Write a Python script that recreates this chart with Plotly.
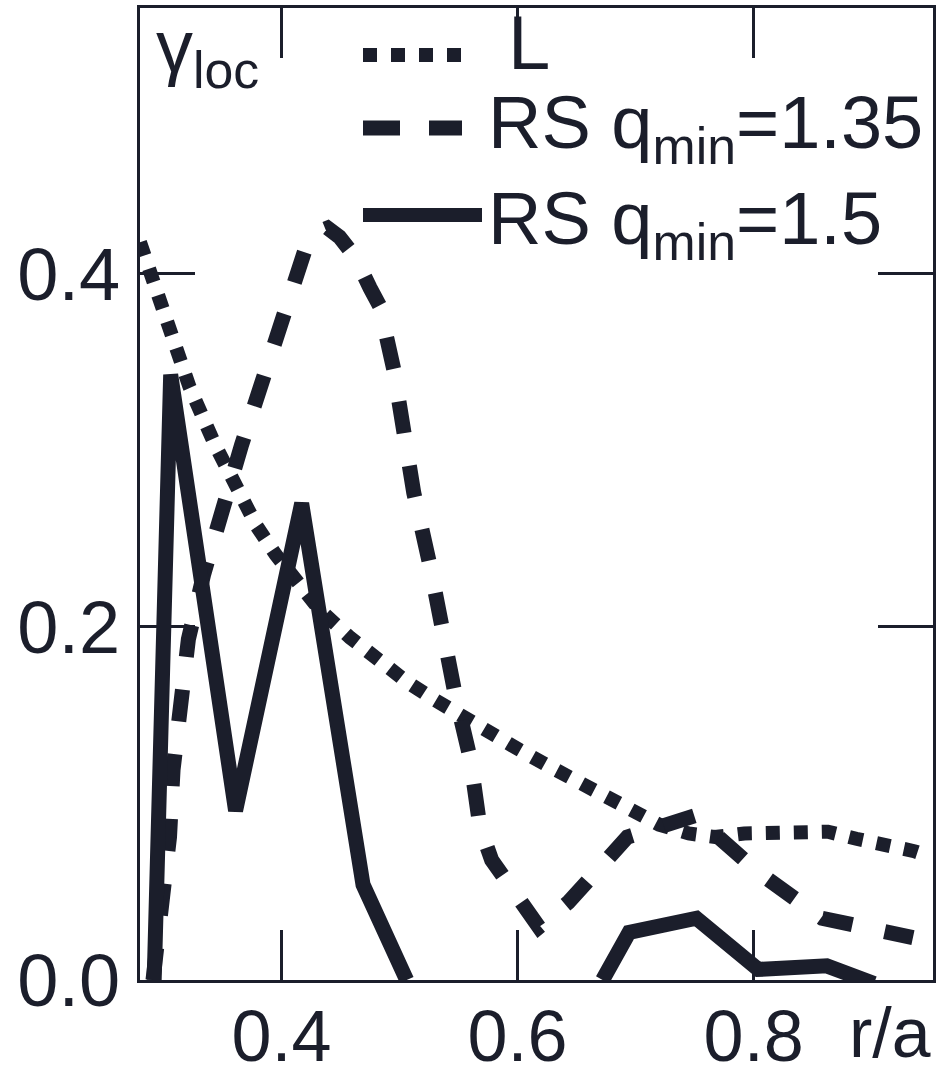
import plotly.graph_objects as go

# ---- data ----
x_L = [0.280, 0.290, 0.300, 0.312, 0.322, 0.343, 0.366, 0.379, 0.395, 0.414, 0.432,
       0.458, 0.482, 0.506, 0.529, 0.553, 0.577, 0.600, 0.624, 0.648, 0.671, 0.695,
       0.720, 0.745, 0.767, 0.792, 0.839, 0.863, 0.887, 0.912, 0.936, 0.945]
y_L = [0.418, 0.398, 0.375, 0.352, 0.336, 0.304, 0.273, 0.257, 0.241, 0.225, 0.210,
       0.194, 0.181, 0.169, 0.159, 0.149, 0.140, 0.131, 0.122, 0.114, 0.106, 0.097,
       0.088, 0.083, 0.081, 0.083, 0.084, 0.084, 0.080, 0.077, 0.073, 0.071]

x_RS135 = [0.291, 0.299, 0.305, 0.308, 0.315, 0.321, 0.334, 0.349, 0.366, 0.384, 0.401,
           0.420, 0.428, 0.439, 0.449, 0.462, 0.475, 0.483, 0.495, 0.504, 0.512, 0.526,
           0.535, 0.547, 0.560, 0.568, 0.578, 0.599, 0.618, 0.643, 0.693, 0.750, 0.804,
           0.858, 0.913, 0.935]
y_RS135 = [0.000, 0.046, 0.081, 0.119, 0.156, 0.193, 0.230, 0.266, 0.303, 0.340, 0.378,
           0.414, 0.423, 0.426, 0.421, 0.410, 0.392, 0.382, 0.346, 0.309, 0.276, 0.234,
           0.198, 0.162, 0.125, 0.087, 0.068, 0.049, 0.030, 0.044, 0.081, 0.093, 0.061,
           0.035, 0.026, 0.024]

x_RS15 = [0.292, 0.306, 0.361, 0.417, 0.469, 0.506, None,
          0.672, 0.6945, 0.7515, 0.804, 0.862, 0.902]
y_RS15 = [0.000, 0.343, 0.096, 0.270, 0.054, 0.000, None,
          0.000, 0.027, 0.035, 0.006, 0.008, -0.002]

x_ticks = [0.4, 0.6, 0.8]
x_ticktext = ["0.4", "0.6", "0.8"]
y_ticks = [0.0, 0.2, 0.4]
y_ticktext = ["0.0", "0.2", "0.4"]

legend_labels = ["L", "RS q<sub>min</sub>=1.35", "RS q<sub>min</sub>=1.5"]

INK = "#1b1e2b"
FONT = "Liberation Sans, Arial, Helvetica, sans-serif"

fig = go.Figure()
fig.add_trace(go.Scatter(x=x_L, y=y_L, mode="lines",
                         line=dict(color=INK, width=14, dash="dot"),
                         showlegend=False, hoverinfo="skip"))
fig.add_trace(go.Scatter(x=x_RS135, y=y_RS135, mode="lines",
                         line=dict(color=INK, width=15, dash="32px,33px"),
                         showlegend=False, hoverinfo="skip"))
fig.add_trace(go.Scatter(x=x_RS15, y=y_RS15, mode="lines",
                         line=dict(color=INK, width=15),
                         connectgaps=False, showlegend=False, hoverinfo="skip"))

W, H = 942, 1078
L_M, R_M, T_M, B_M = 140, 9, 8, 98
PW = W - L_M - R_M
PH = H - T_M - B_M

def px(xp):
    return (xp - L_M) / PW

def py(yp):
    return (H - B_M - yp) / PH

# legend keys (drawn as paper-positioned samples)
key_x0, key_x1 = px(363), px(462)
fig.add_shape(type="line", xref="paper", yref="paper", x0=key_x0, x1=key_x1,
              y0=py(55), y1=py(55), line=dict(color=INK, width=14, dash="dot"))
fig.add_shape(type="line", xref="paper", yref="paper", x0=key_x0, x1=key_x1,
              y0=py(128), y1=py(128), line=dict(color=INK, width=15, dash="37px,29px"))
fig.add_shape(type="line", xref="paper", yref="paper", x0=key_x0, x1=px(482),
              y0=py(215), y1=py(215), line=dict(color=INK, width=14))

fig.add_annotation(text=legend_labels[0], xref="paper", yref="paper",
                   x=px(506), y=py(42), xanchor="left", yanchor="middle", height=56,
                   showarrow=False, font=dict(family=FONT, size=76, color=INK))
fig.add_annotation(text=legend_labels[1], xref="paper", yref="paper",
                   x=px(486), y=py(128), xanchor="left", yanchor="middle",
                   showarrow=False, font=dict(family=FONT, size=74, color=INK))
fig.add_annotation(text=legend_labels[2], xref="paper", yref="paper",
                   x=px(486), y=py(224), xanchor="left", yanchor="middle",
                   showarrow=False, font=dict(family=FONT, size=74, color=INK))

fig.add_annotation(text="γ<sub>loc</sub>", xref="paper", yref="paper",
                   x=px(154), y=py(3), xanchor="left", yanchor="top",
                   showarrow=False, font=dict(family=FONT, size=74, color=INK))
fig.add_annotation(text="r/a", xref="paper", yref="paper",
                   x=px(933), y=py(1033), xanchor="right", yanchor="middle",
                   height=60, showarrow=False, font=dict(family=FONT, size=70, color=INK))

axis_common = dict(showline=True, linecolor=INK, linewidth=3, mirror="ticks",
                   ticks="inside", tickcolor=INK, tickwidth=3, showgrid=False,
                   zeroline=False, automargin=False)

fig.update_layout(
    width=W, height=H,
    margin=dict(l=L_M, r=R_M, t=T_M, b=B_M),
    paper_bgcolor="white", plot_bgcolor="white",
    xaxis=dict(range=[0.28, 0.952], tickvals=x_ticks, ticktext=x_ticktext,
               ticklen=50, ticklabelstandoff=-8,
               tickfont=dict(family=FONT, size=72, color=INK), **axis_common),
    yaxis=dict(range=[0.0, 0.5507], tickvals=y_ticks, ticktext=y_ticktext,
               ticklen=55, ticklabelstandoff=2,
               tickfont=dict(family=FONT, size=74, color=INK), **axis_common),
)

fig.write_html("out.html")
